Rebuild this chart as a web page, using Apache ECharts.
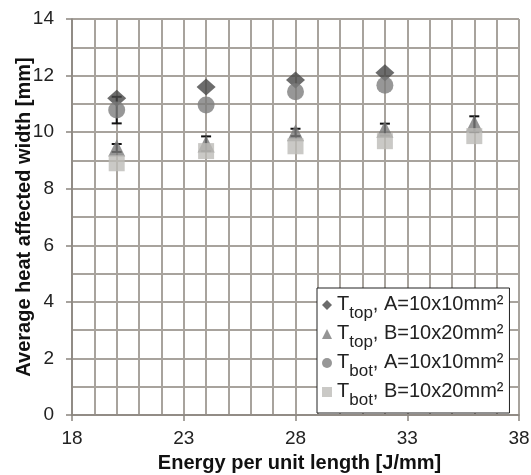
<!DOCTYPE html>
<html>
<head>
<meta charset="utf-8">
<script src="https://cdn.jsdelivr.net/npm/echarts@6/dist/echarts.min.js"></script>
<style>
  html, body { margin: 0; padding: 0; background: #fff; }
  #charts { width: 531px; height: 475px; }
</style>
</head>
<body>
<div id="charts"></div>
<script>
// energy per unit length [J/mm]
var energy = [20, 24, 28, 32, 36];

// average heat affected width [mm]
var topA = [11.2, 11.6, 11.84, 12.1, null];
var topB = [9.44, 9.58, 9.98, 10.1, 10.3];
var botA = [10.78, 10.96, 11.43, 11.66, null];
var botB = [8.9, 9.33, 9.5, 9.68, 9.86];

// error bars: [x, low, high]
var errBars = [
    [20, 10.31, 11.25],
    [20, 9.3, 9.58],
    [24, 9.33, 9.85],
    [28, 9.86, 10.12],
    [32, 9.88, 10.3],
    [36, 10.0, 10.56]
];

var names = ['topA', 'topB', 'botA', 'botB'];
var legendText = {
    topA: '{t|T}{s|top}{t|, A=10x10mm²}',
    topB: '{t|T}{s|top}{t|, B=10x20mm²}',
    botA: '{t|T}{s|bot}{t|, A=10x10mm²}',
    botB: '{t|T}{s|bot}{t|, B=10x20mm²}'
};

function pairs(ys) {
    var out = [];
    for (var i = 0; i < energy.length; i++) {
        if (ys[i] != null) out.push([energy[i], ys[i]]);
    }
    return out;
}

function renderErr(params, api) {
    var x = api.value(0);
    var hi = api.coord([x, api.value(2)]);
    var lo = api.coord([x, api.value(1)]);
    var w = 5;
    var st = { stroke: '#111', lineWidth: 2 };
    return {
        type: 'group',
        children: [
            { type: 'line', shape: { x1: hi[0], y1: hi[1], x2: lo[0], y2: lo[1] }, style: st },
            { type: 'line', shape: { x1: hi[0] - w, y1: hi[1], x2: hi[0] + w, y2: hi[1] }, style: st },
            { type: 'line', shape: { x1: lo[0] - w, y1: lo[1], x2: lo[0] + w, y2: lo[1] }, style: st }
        ]
    };
}

function initECharts(myChart) {
    var gridColor = '#a8a39d';
    var axisColor = '#8a857f';
    var font = 'Liberation Sans';
    var option = {
        animation: false,
        grid: { left: 72, right: 12, top: 19, bottom: 60, outerBoundsMode: 'none' },
        xAxis: {
            type: 'value',
            min: 18, max: 38, interval: 5,
            name: 'Energy per unit length [J/mm]',
            nameLocation: 'middle', nameGap: 38,
            nameTextStyle: { fontFamily: font, fontSize: 20, fontWeight: 'bold', color: '#111', padding: [0, 0, 0, 8] },
            axisLine: { lineStyle: { color: axisColor, width: 1.5 } },
            axisTick: { length: 6, lineStyle: { color: axisColor, width: 1.5 } },
            axisLabel: { fontFamily: font, fontSize: 19, color: '#222', margin: 14 },
            splitLine: { show: true, lineStyle: { color: gridColor, width: 2 } },
            minorTick: { show: false, splitNumber: 5 },
            minorSplitLine: { show: true, lineStyle: { color: gridColor, width: 2 } }
        },
        yAxis: {
            type: 'value',
            min: 0, max: 14, interval: 2,
            name: 'Average heat affected width [mm]',
            nameLocation: 'middle', nameGap: 38,
            nameMoveOverlap: false,
            nameTextStyle: { fontFamily: font, fontSize: 20, fontWeight: 'bold', color: '#111' },
            axisLine: { show: true, lineStyle: { color: axisColor, width: 1.5 } },
            axisTick: { show: true, length: 6, lineStyle: { color: axisColor, width: 1.5 } },
            minorTick: { show: false, splitNumber: 2 },
            axisLabel: { fontFamily: font, fontSize: 19, color: '#222', margin: 18 },
            splitLine: { show: true, lineStyle: { color: gridColor, width: 2 } },
            minorSplitLine: { show: true, lineStyle: { color: gridColor, width: 2 } }
        },
        legend: {
            data: names,
            orient: 'vertical',
            left: 317, top: 288,
            width: 196,
            backgroundColor: '#fff',
            borderColor: '#222', borderWidth: 1,
            padding: [6, 6, 4, 5],
            itemGap: 1,
            itemWidth: 10, itemHeight: 10,
            formatter: function (n) { return legendText[n]; },
            textStyle: {
                rich: {
                    t: { fontFamily: font, fontSize: 20, color: '#222', lineHeight: 22, verticalAlign: 'top' },
                    s: { fontFamily: font, fontSize: 17, color: '#222', lineHeight: 16, verticalAlign: 'top', padding: [11, 0, 0, 0] }
                }
            }
        },
        series: [
            {
                type: 'custom', name: 'err', renderItem: renderErr,
                data: errBars, z: 1, silent: true
            },
            {
                name: 'topA', type: 'scatter', symbol: 'diamond', symbolSize: [19, 17],
                itemStyle: { color: '#474747' }, data: pairs(topA), z: 2
            },
            {
                name: 'topB', type: 'scatter', symbol: 'triangle', symbolSize: [17, 17],
                itemStyle: { color: '#7b7b7b' }, data: pairs(topB), z: 3
            },
            {
                name: 'botA', type: 'scatter', symbol: 'circle', symbolSize: 17,
                itemStyle: { color: '#7d7d7d' }, data: pairs(botA), z: 4
            },
            {
                name: 'botB', type: 'scatter', symbol: 'rect', symbolSize: 16,
                itemStyle: { color: '#bdbbb8' }, data: pairs(botB), z: 3
            }
        ]
    };
    myChart.setOption(option);
}

window.onload = function () {
    var myChart = echarts.init(document.getElementById('charts'));
    initECharts(myChart);
};
</script>
</body>
</html>
